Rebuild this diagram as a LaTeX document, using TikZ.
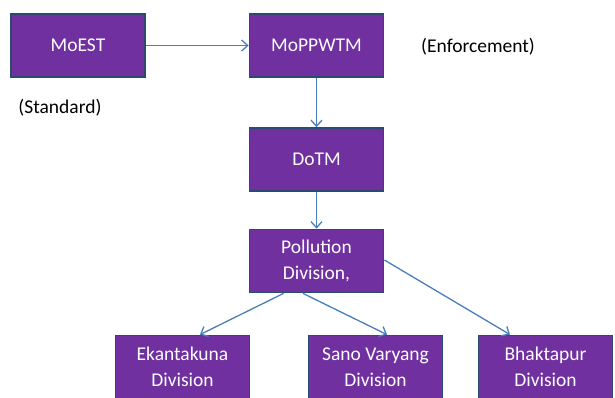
\documentclass[tikz,border=0pt]{standalone}
\usepackage{fontspec}
\setmainfont{Carlito}
\usetikzlibrary{arrows.meta}
\definecolor{boxfill}{HTML}{7030A0}
\definecolor{boxline}{HTML}{2B4A6F}
\definecolor{arrowblue}{HTML}{4A7EBB}
\begin{document}
\begin{tikzpicture}[x=1pt,y=-1pt,
  unit/.style={draw=boxline,line width=1.8pt,fill=boxfill,text=white,
    minimum width=134pt,minimum height=63pt,align=center,
    font=\fontsize{19.5}{26}\selectfont},
  note/.style={font=\fontsize{19.5}{26}\selectfont},
  link/.style={-{Straight Barb[length=6pt,width=11pt]},draw=arrowblue,line width=1.3pt}]
\useasboundingbox (0,0) rectangle (615,397);
\clip (0,0) rectangle (615,397);
\node[unit] (moest) at (78,45.5) {MoEST};
\node[unit] (moppwtm) at (316.5,45.5) {MoPPWTM};
\node[unit] (dotm) at (316.5,159.5) {DoTM};
\node[unit] (pollution) at (316.5,261) {Pollution\\Division,};
\node[unit] (ekantakuna) at (182.5,367) {Ekantakuna\\Division};
\node[unit] (sano) at (375.5,367) {Sano Varyang\\Division};
\node[unit] (bhaktapur) at (545.5,367) {Bhaktapur\\Division};
\node[note] (enforce) at (478,47) {(Enforcement)};
\node[note] (standard) at (60,108) {(Standard)};
\draw[link] (moest) -- (moppwtm);
\draw[link] (moppwtm) -- (dotm);
\draw[link] (dotm) -- (pollution);
\draw[link] ([xshift=-33pt]pollution.south) -- ([xshift=17.5pt]ekantakuna.north);
\draw[link] ([xshift=-13.5pt]pollution.south) -- ([xshift=11.5pt]sano.north);
\draw[link] ([yshift=1pt]pollution.east) -- ([xshift=-35.5pt]bhaktapur.north);
\end{tikzpicture}
\end{document}
